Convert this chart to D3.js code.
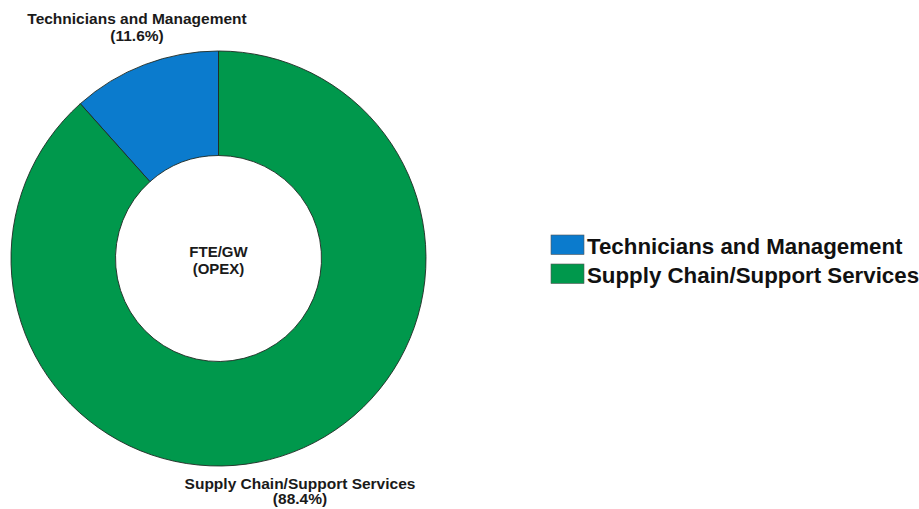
<!DOCTYPE html>
<html>
<head>
<meta charset="utf-8">
<script src="https://cdn.jsdelivr.net/npm/d3@7"></script>
<style>
  html, body { margin: 0; padding: 0; background: #ffffff; }
  svg { display: block; font-family: "Liberation Sans", Arial, sans-serif; }
</style>
</head>
<body>
<svg id="chart" width="919" height="509"></svg>
<script>
// Share of operational FTE per GW by job group
const categories = ["Technicians and Management", "Supply Chain/Support Services"];
const shares = [11.6, 88.4];
const colors = ["#0b7bcd", "#00984c"];
const centerLines = ["FTE/GW", "(OPEX)"];

const svg = d3.select("#chart");
const cx = 218.5, cy = 258.5;
const outerR = 207.5, innerR = 103;

const data = categories.map((c, i) => ({ name: c, value: shares[i], color: colors[i] }));

// First slice ends at 12 o'clock, so it sits just left of the top
const total = d3.sum(shares);
const start = -2 * Math.PI * shares[0] / total;
const pie = d3.pie().value(d => d.value).sort(null)
  .startAngle(start).endAngle(start + 2 * Math.PI);
const arc = d3.arc().innerRadius(innerR).outerRadius(outerR);
const arcs = pie(data);

const g = svg.append("g").attr("transform", `translate(${cx},${cy})`);

g.selectAll("path.slice")
  .data(arcs)
  .enter().append("path")
  .attr("class", "slice")
  .attr("d", arc)
  .attr("fill", d => d.data.color)
  .attr("stroke", "#1f2a24")
  .attr("stroke-width", 0.9);

// Centre caption
g.append("text")
  .attr("text-anchor", "middle")
  .attr("font-weight", "bold")
  .attr("font-size", 15)
  .attr("fill", "#1a1a1a")
  .selectAll("tspan")
  .data(centerLines)
  .enter().append("tspan")
  .attr("x", 0)
  .attr("y", (d, i) => -1.5 + i * 16.5)
  .text(d => d);

// Slice labels with percentages
const labelPos = [
  { x: 137, y: 24, gap: 16.5 },
  { x: 300, y: 488.5, gap: 15.5 }
];
arcs.forEach((a, i) => {
  const t = svg.append("text")
    .attr("text-anchor", "middle")
    .attr("font-weight", "bold")
    .attr("font-size", 15.5)
    .attr("fill", "#1a1a1a");
  t.append("tspan").attr("x", labelPos[i].x).attr("y", labelPos[i].y).text(a.data.name);
  t.append("tspan").attr("x", labelPos[i].x).attr("y", labelPos[i].y + labelPos[i].gap)
    .text(`(${d3.format(".1f")(a.data.value)}%)`);
});

// Legend
const legend = svg.append("g").attr("transform", "translate(551,235)");
const item = legend.selectAll("g.item")
  .data(data)
  .enter().append("g")
  .attr("class", "item")
  .attr("transform", (d, i) => `translate(0,${i * 29})`);

item.append("rect")
  .attr("width", 33)
  .attr("height", 19.5)
  .attr("fill", d => d.color)
  .attr("stroke", "#555")
  .attr("stroke-width", 0.6);

item.append("text")
  .attr("x", 36)
  .attr("y", 18.5)
  .attr("font-weight", "bold")
  .attr("font-size", 22.3)
  .attr("fill", "#111")
  .text(d => d.name);
</script>
</body>
</html>
